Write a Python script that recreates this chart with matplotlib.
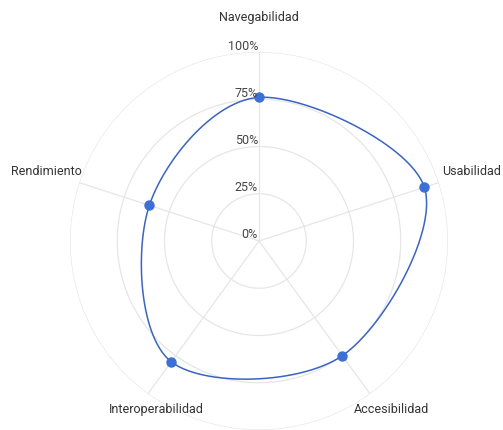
import numpy as np
import matplotlib
matplotlib.use("Agg")
import matplotlib.pyplot as plt
from matplotlib.transforms import offset_copy

plt.rcParams['font.family'] = ['Roboto', 'DejaVu Sans']

categories = ["Navegabilidad", "Usabilidad", "Accesibilidad", "Interoperabilidad", "Rendimiento"]
values = [76, 92, 75, 79, 61]
ticks = [0, 25, 50, 75, 100]
tick_labels = ["0%", "25%", "50%", "75%", "100%"]

W, H = 503, 430
fig = plt.figure(figsize=(W / 100, H / 100), dpi=100)
cx, cy, R = 259, 241, 189
ax = fig.add_axes([(cx - R) / W, (H - cy - R) / H, 2 * R / W, 2 * R / H], projection='polar')
ax.set_theta_zero_location('N')
ax.set_theta_direction(-1)
ax.set_ylim(0, 100)
ax.set_xticks([])
ax.set_yticks([])
ax.spines['polar'].set_visible(False)
ax.grid(False)
ax.set_facecolor('none')

n = len(categories)
angles = np.arange(n) * 2 * np.pi / n

# grid circles
th = np.linspace(0, 2 * np.pi, 400)
for t in ticks[1:]:
    ax.plot(th, np.full_like(th, t), color='#e6e6e6', lw=0.9, zorder=1)
# spokes
for a in angles:
    ax.plot([a, a], [0, 100], color='#e6e6e6', lw=0.9, zorder=1)

# smooth closed curve (cardinal spline in cartesian space)
vals = np.array(values, float)
px = vals * np.sin(angles)
py = vals * np.cos(angles)
P = np.stack([px, py], axis=1)
tension = 0.5
curve = []
for i in range(n):
    p0, p1, p2, p3 = P[(i - 1) % n], P[i], P[(i + 1) % n], P[(i + 2) % n]
    m1 = tension * (p2 - p0)
    m2 = tension * (p3 - p1)
    for s in np.linspace(0, 1, 60, endpoint=False):
        h00 = 2 * s**3 - 3 * s**2 + 1
        h10 = s**3 - 2 * s**2 + s
        h01 = -2 * s**3 + 3 * s**2
        h11 = s**3 - s**2
        curve.append(h00 * p1 + h10 * m1 + h01 * p2 + h11 * m2)
curve.append(curve[0])
curve = np.array(curve)
cr = np.hypot(curve[:, 0], curve[:, 1])
ct = np.arctan2(curve[:, 0], curve[:, 1])
ax.plot(ct, cr, color='#3a64c0', lw=1.1, zorder=3)
ax.plot(angles, vals, 'o', color='#3d6fd6', ms=6.5, zorder=4, mec='#3d6fd6')

# tick labels along top spoke
for t, lab in zip(ticks, tick_labels):
    tr = offset_copy(ax.transData, fig=fig, x=-1, y=6, units='dots')
    ax.text(0, t, lab, transform=tr, ha='right', va='center', fontsize=9,
            color='#444444', zorder=5)

# category labels
offsets = [(0, 35, 'center', 'center'), (3, 11, 'left', 'center'),
           (21, -16, 'center', 'center'), (8, -16, 'center', 'center'),
           (-33, 11, 'center', 'center')]
for a, lab, (dx, dy, ha, va) in zip(angles, categories, offsets):
    tr = offset_copy(ax.transData, fig=fig, x=dx, y=dy, units='dots')
    ax.text(a, 100, lab, transform=tr, ha=ha, va=va, fontsize=9,
            color='#333333')

fig.savefig("out.png", dpi=100)
